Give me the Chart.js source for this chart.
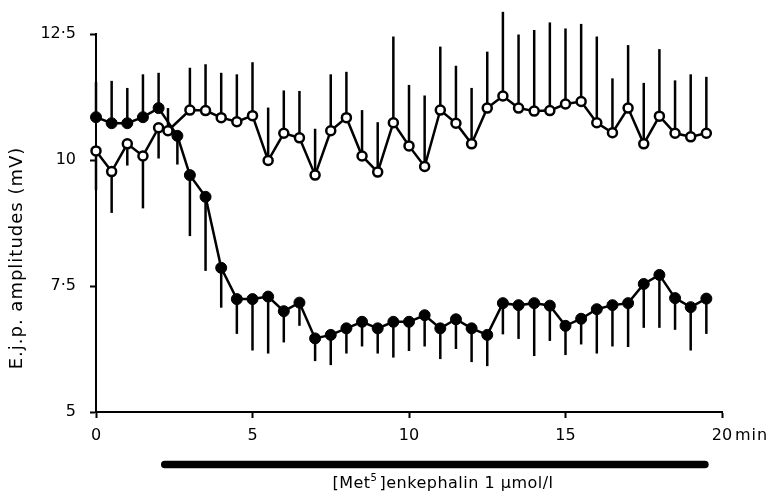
<!DOCTYPE html>
<html>
<head>
<meta charset="utf-8">
<script src="https://cdn.jsdelivr.net/npm/chart.js@4"></script>
<style>
  html, body { margin: 0; padding: 0; background: #fff; }
  #wrap { position: relative; width: 772px; height: 493px; }
</style>
</head>
<body>
<div id="wrap"><canvas id="ejp"></canvas></div>
<script>
// E.j.p. amplitudes before / during [Met5]enkephalin

// --- Data ---
const filledTimes = [0, 0.5, 1, 1.5, 2, 2.6, 3, 3.5, 4, 4.5, 5, 5.5, 6, 6.5, 7, 7.5, 8, 8.5, 9, 9.5,
  10, 10.5, 11, 11.5, 12, 12.5, 13, 13.5, 14, 14.5, 15, 15.5, 16, 16.5, 17, 17.5, 18, 18.5, 19, 19.5];
const filledVals = [10.85, 10.73, 10.73, 10.85, 11.03, 10.48, 9.70, 9.27, 7.86, 7.24, 7.24, 7.29, 7.00, 7.17, 6.46, 6.53, 6.66, 6.79, 6.66, 6.79,
  6.79, 6.92, 6.66, 6.84, 6.66, 6.53, 7.16, 7.12, 7.16, 7.11, 6.71, 6.85, 7.04, 7.12, 7.16, 7.54, 7.72, 7.26, 7.08, 7.25];
// end of each error bar (first few point up, the rest down)
const filledErrEnd = [11.55, 11.57, 11.43, 11.70, 11.73, 9.91, 8.49, 7.80, 7.07, 6.55, 6.22, 6.16, 6.38, 6.71, 6.01, 5.93, 6.16, 6.30, 6.16, 6.08,
  6.21, 6.30, 6.05, 6.25, 5.99, 5.91, 6.54, 6.45, 6.11, 6.41, 6.13, 6.34, 6.16, 6.30, 6.29, 6.67, 6.67, 6.63, 6.22, 6.55];

const openTimes = [0, 0.5, 1, 1.5, 2, 2.3, 3, 3.5, 4, 4.5, 5, 5.5, 6, 6.5, 7, 7.5, 8, 8.5, 9, 9.5,
  10, 10.5, 11, 11.5, 12, 12.5, 13, 13.5, 14, 14.5, 15, 15.5, 16, 16.5, 17, 17.5, 18, 18.5, 19, 19.5];
const openVals = [10.18, 9.77, 10.32, 10.08, 10.64, 10.58, 10.99, 10.98, 10.84, 10.76, 10.88, 9.99, 10.53, 10.44, 9.70, 10.58, 10.84, 10.08, 9.76, 10.74,
  10.28, 9.87, 10.99, 10.73, 10.32, 11.03, 11.27, 11.03, 10.97, 10.98, 11.11, 11.16, 10.74, 10.54, 11.03, 10.32, 10.87, 10.53, 10.46, 10.53];
const openErrEnd = [9.40, 8.95, 9.89, 9.04, 10.03, 11.03, 11.83, 11.90, 11.73, 11.70, 11.94, 11.04, 11.38, 11.37, 10.62, 11.70, 11.75, 10.99, 10.75, 12.45,
  11.49, 11.28, 12.25, 11.87, 11.43, 12.15, 12.94, 12.49, 12.58, 12.73, 12.61, 12.70, 12.45, 11.62, 12.28, 11.53, 12.20, 11.58, 11.70, 11.65];

const xTicks = [0, 5, 10, 15, 20];
const yTicks = [5, 7.5, 10, 12.5];
const drugPeriod = [2.1, 19.55]; // minutes
const yTitle = 'E.j.p. amplitudes (mV)';

const FONT = 'DejaVu Sans, Liberation Sans, sans-serif';

function toPoints(xs, ys) {
  return xs.map((x, i) => ({ x, y: ys[i] }));
}

// --- Error bars, drug bar and extra text ---
const extras = {
  id: 'extras',
  beforeDatasetsDraw(chart) {
    const { ctx, scales: { x, y } } = chart;
    ctx.save();
    ctx.strokeStyle = '#000';
    ctx.lineWidth = 2.5;
    ctx.lineCap = 'butt';
    const bars = [[filledTimes, filledVals, filledErrEnd], [openTimes, openVals, openErrEnd]];
    bars.forEach(([ts, vs, es]) => {
      ts.forEach((t, i) => {
        const px = x.getPixelForValue(t);
        ctx.beginPath();
        ctx.moveTo(px, y.getPixelForValue(vs[i]));
        ctx.lineTo(px, y.getPixelForValue(es[i]));
        ctx.stroke();
      });
    });
    ctx.restore();
  },
  afterDraw(chart) {
    const { ctx, scales: { x, y } } = chart;
    ctx.save();
    ctx.fillStyle = '#000';

    // "min" after the 20 tick label
    ctx.font = '16px ' + FONT;
    ctx.textBaseline = 'middle';
    ctx.textAlign = 'left';
    ctx.letterSpacing = '1px';
    ctx.fillText('min', x.getPixelForValue(20) + 13, 436);

    // y axis title
    ctx.save();
    ctx.translate(17, 258);
    ctx.rotate(-Math.PI / 2);
    ctx.textAlign = 'center';
    ctx.font = '18px ' + FONT;
    ctx.letterSpacing = '1px';
    ctx.fillText(yTitle, 0, 0);
    ctx.restore();

    // drug application bar
    const x0 = x.getPixelForValue(drugPeriod[0]);
    const x1 = x.getPixelForValue(drugPeriod[1]);
    ctx.beginPath();
    ctx.lineWidth = 7.5;
    ctx.lineCap = 'round';
    ctx.strokeStyle = '#000';
    ctx.moveTo(x0 + 3, 464.5);
    ctx.lineTo(x1 - 3, 464.5);
    ctx.stroke();

    // "[Met5]enkephalin 1 umol/l" with superscript
    ctx.letterSpacing = '0.5px';
    const parts = [
      { t: '[Met', f: '16px ' + FONT, dy: 0 },
      { t: '5', f: '10px ' + FONT, dy: -7 },
      { t: ']enkephalin 1 \u03bcmol/l', f: '16px ' + FONT, dy: 0 }
    ];
    let total = 0;
    parts.forEach(p => { ctx.font = p.f; p.w = ctx.measureText(p.t).width; total += p.w; });
    let cx = 442 - total / 2;
    ctx.textAlign = 'left';
    ctx.textBaseline = 'alphabetic';
    parts.forEach(p => {
      ctx.font = p.f;
      ctx.fillText(p.t, cx, 488 + p.dy);
      cx += p.w + (p.t === '5' ? 2 : 0);
    });
    ctx.restore();
  }
};

const chart = new Chart(document.getElementById('ejp'), {
  type: 'line',
  data: {
    datasets: [
      {
        label: 'filled',
        data: toPoints(filledTimes, filledVals),
        borderColor: '#000',
        borderWidth: 2.5,
        backgroundColor: '#000',
        pointBackgroundColor: '#000',
        pointBorderColor: '#000',
        pointBorderWidth: 1,
        pointRadius: 5.5,
        tension: 0,
        clip: false
      },
      {
        label: 'open',
        data: toPoints(openTimes, openVals),
        borderColor: '#000',
        borderWidth: 2.5,
        backgroundColor: '#fff',
        pointBackgroundColor: '#fff',
        pointBorderColor: '#000',
        pointBorderWidth: 2.5,
        pointRadius: 4.5,
        tension: 0,
        clip: false
      }
    ]
  },
  options: {
    responsive: true,
    maintainAspectRatio: false,
    animation: false,
    events: [],
    layout: { padding: { top: 34, right: 50, left: 0, bottom: 0 } },
    plugins: {
      legend: { display: false },
      tooltip: { enabled: false }
    },
    scales: {
      x: {
        type: 'linear',
        min: 0,
        max: 20,
        afterFit(scale) { scale.height = 81; },
        afterBuildTicks(scale) { scale.ticks = xTicks.map(v => ({ value: v })); },
        border: { display: true, color: '#000', width: 2 },
        grid: { display: true, drawOnChartArea: false, drawTicks: true, tickLength: 6, tickWidth: 2, tickColor: '#000' },
        ticks: {
          color: '#000',
          font: { family: FONT, size: 16 },
          padding: 8,
          maxRotation: 0,
          callback: v => String(v)
        }
      },
      y: {
        min: 5,
        max: 12.5,
        afterFit(scale) { scale.width = 96; },
        afterBuildTicks(scale) { scale.ticks = yTicks.map(v => ({ value: v })); },
        border: { display: true, color: '#000', width: 2 },
        grid: { display: true, drawOnChartArea: false, drawTicks: true, tickLength: 6, tickWidth: 2, tickColor: '#000' },
        ticks: {
          color: '#000',
          font: { family: FONT, size: 16 },
          padding: 14,
          callback: v => String(v).replace('.', '\u00b7')
        }
      }
    }
  },
  plugins: [extras]
});
</script>
</body>
</html>
